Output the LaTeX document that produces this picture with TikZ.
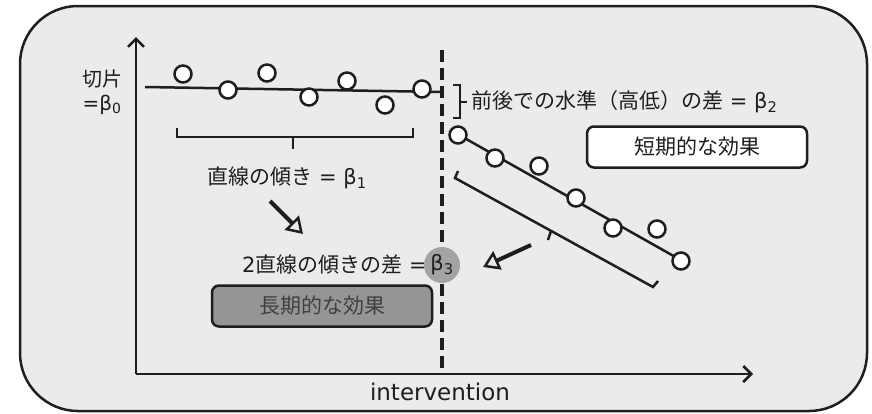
\documentclass[tikz,border=0pt]{standalone}
\usepackage{fontspec}
\setmainfont{DejaVu Sans}
\newfontfamily\jp{Noto Sans CJK JP}
\usetikzlibrary{arrows.meta}
\definecolor{bgfill}{HTML}{EBEBEB}
\definecolor{darkbox}{HTML}{959595}
\definecolor{betafill}{HTML}{A3A3A3}
\definecolor{ink}{HTML}{1E1E1E}
\begin{document}
\begin{tikzpicture}[x=1pt,y=-1pt,line width=2.5pt,draw=ink,
  pt/.style={circle,draw=ink,fill=white,line width=2.5pt,minimum size=17pt,inner sep=0pt},
  lbl/.style={text=ink,inner sep=0pt,font=\fontsize{21}{24}\selectfont},
  effbox/.style={draw=ink,rounded corners=7pt,line width=2.5pt,minimum width=220pt,minimum height=41pt,inner sep=0pt,text=ink,font=\fontsize{21}{24}\selectfont\jp},
  axis/.style={line width=2.5pt,-{Straight Barb[length=8pt,width=16pt,line width=2.5pt]}},
  hollow/.style={line width=4pt,-{Triangle[open,length=16pt,width=20pt,line width=2.5pt]}}]
\useasboundingbox (0,0) rectangle (872,413);
% outer panel
\draw[fill=bgfill,line width=2.5pt,rounded corners=58pt] (20,6) rectangle (867,411);
% axes
\coordinate (O) at (136,374);
\coordinate (ytop) at (136,37);
\coordinate (xend) at (753,374);
\draw[axis] (O) -- (ytop);
\draw[axis] (O) -- (xend);
% intervention dashed line
\coordinate (dtop) at (442,50);
\coordinate (dbot) at (442,374);
\draw[line width=3.5pt,dash pattern=on 12pt off 6pt] (dtop) -- (dbot);
% left fitted line
\coordinate (l1) at (145,87);
\coordinate (l2) at (442,92);
\draw (l1) -- (l2);
% left points
\node[pt] (a1) at (183,74) {};
\node[pt] (a2) at (228,90) {};
\node[pt] (a3) at (267,73) {};
\node[pt] (a4) at (309,97) {};
\node[pt] (a5) at (347,81) {};
\node[pt] (a6) at (385,105) {};
\node[pt] (a7) at (422,89) {};
% left bracket
\coordinate (b1) at (177,128);
\coordinate (b2) at (177,137);
\coordinate (b3) at (413,137);
\coordinate (b4) at (413,128);
\coordinate (bm) at (293,137);
\coordinate (bmt) at (293,149);
\draw (b1) -- (b2) -- (b3) -- (b4);
\draw (bm) -- (bmt);
% labels left
\node[lbl,font=\fontsize{20}{22}\selectfont\jp] (kp) at (102,79) {切片};
\node[lbl,font=\fontsize{20}{22}\selectfont] (b0) at (102,105) {=β\textsubscript{0}};
\node[lbl] (slope) at (287,178) {{\jp 直線の傾き} = β\textsubscript{1}};
% level-change brace
\coordinate (r1) at (453,85);
\coordinate (r2) at (460,85);
\coordinate (r3) at (460,118);
\coordinate (r4) at (453,118);
\coordinate (rm) at (460,102);
\coordinate (rmt) at (467,102);
\draw (r1) -- (r2) -- (r3) -- (r4);
\draw (rm) -- (rmt);
\node[lbl,anchor=west] (lev) at (470,102) {{\jp 前後での水準（高低）の差} = β\textsubscript{2}};
% short-term box
\node[effbox,fill=white] (short) at (697,147) {短期的な効果};
% right fitted line
\coordinate (m1) at (452,131);
\coordinate (m2) at (686,263);
\draw (m1) -- (m2);
\node[pt] (c1) at (458,135) {};
\node[pt] (c2) at (495,158) {};
\node[pt] (c3) at (539,166) {};
\node[pt] (c4) at (576,198) {};
\node[pt] (c5) at (613,228) {};
\node[pt] (c6) at (657,229) {};
\node[pt] (c7) at (681,261) {};
% right bracket (parallel to line)
\coordinate (s1) at (458,171);
\coordinate (s2) at (455,178);
\coordinate (s3) at (653,287);
\coordinate (s4) at (658,281);
\coordinate (sm) at (551,231);
\coordinate (smt) at (548,240);
\draw (s1) -- (s2) -- (s3) -- (s4);
\draw (sm) -- (smt);
% arrows
\coordinate (h1) at (270,201);
\coordinate (h2) at (303,234);
\draw[hollow] (h1) -- (h2);
\coordinate (k1) at (531,245);
\coordinate (k2) at (483,267);
\draw[hollow] (k1) -- (k2);
% slope difference
\node[lbl,anchor=east] (diff) at (428,265) {2{\jp 直線の傾きの差} =};
\node[circle,fill=betafill,minimum size=36pt,inner sep=0pt,text=ink,font=\fontsize{21}{24}\selectfont] (b3c) at (442,265) {β\textsubscript{3}};
% long-term box
\node[effbox,fill=darkbox,text=ink!85] (long) at (322,306) {長期的な効果};
% x label
\node[lbl,font=\fontsize{23}{26}\selectfont] (interv) at (440,392) {intervention};
\end{tikzpicture}
\end{document}
